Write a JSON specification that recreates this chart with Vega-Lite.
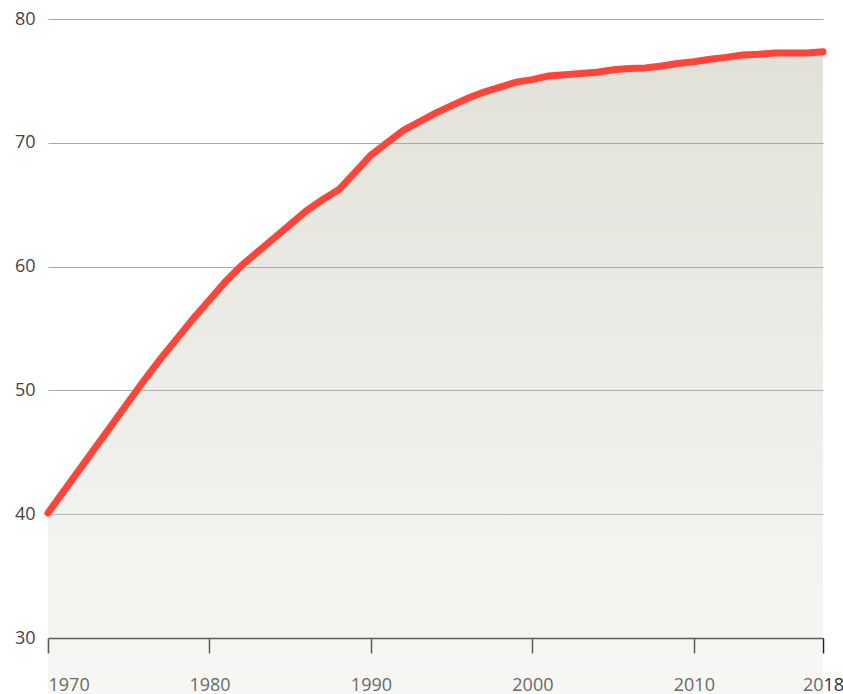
{
  "$schema": "https://vega.github.io/schema/vega-lite/v6.json",
  "width": 775,
  "height": 619,
  "autosize": {"type": "none"},
  "padding": {"left": 48, "top": 19, "right": 20, "bottom": 56},
  "background": "white",
  "config": {"view": {"stroke": null}, "font": "Open Sans"},
  "data": {"values": [
    {"year": 1970, "value": 40.1}, {"year": 1971, "value": 41.9}, {"year": 1972, "value": 43.7},
    {"year": 1973, "value": 45.5}, {"year": 1974, "value": 47.3}, {"year": 1975, "value": 49.1},
    {"year": 1976, "value": 50.9}, {"year": 1977, "value": 52.6}, {"year": 1978, "value": 54.2},
    {"year": 1979, "value": 55.8}, {"year": 1980, "value": 57.3}, {"year": 1981, "value": 58.8},
    {"year": 1982, "value": 60.1}, {"year": 1983, "value": 61.2}, {"year": 1984, "value": 62.3},
    {"year": 1985, "value": 63.4}, {"year": 1986, "value": 64.5}, {"year": 1987, "value": 65.4},
    {"year": 1988, "value": 66.2}, {"year": 1989, "value": 67.6}, {"year": 1990, "value": 69.0},
    {"year": 1991, "value": 70.0}, {"year": 1992, "value": 71.0}, {"year": 1993, "value": 71.7},
    {"year": 1994, "value": 72.4}, {"year": 1995, "value": 73.0}, {"year": 1996, "value": 73.6},
    {"year": 1997, "value": 74.1}, {"year": 1998, "value": 74.5}, {"year": 1999, "value": 74.9},
    {"year": 2000, "value": 75.1}, {"year": 2001, "value": 75.4}, {"year": 2002, "value": 75.5},
    {"year": 2003, "value": 75.6}, {"year": 2004, "value": 75.7}, {"year": 2005, "value": 75.9},
    {"year": 2006, "value": 76.0}, {"year": 2007, "value": 76.05}, {"year": 2008, "value": 76.2},
    {"year": 2009, "value": 76.4}, {"year": 2010, "value": 76.55}, {"year": 2011, "value": 76.75},
    {"year": 2012, "value": 76.9}, {"year": 2013, "value": 77.1}, {"year": 2014, "value": 77.15},
    {"year": 2015, "value": 77.25}, {"year": 2016, "value": 77.25}, {"year": 2017, "value": 77.25},
    {"year": 2018, "value": 77.35}
  ]},
  "encoding": {
    "x": {
      "field": "year", "type": "quantitative",
      "scale": {"domain": [1970, 2018], "nice": false, "zero": false},
      "axis": {
        "title": null, "values": [1970, 1980, 1990, 2000, 2010, 2018], "format": "d",
        "grid": false, "domainColor": "#222", "domainWidth": 1.5, "tickColor": "#222", "tickWidth": 1.5,
        "tickSize": 15, "labelPadding": 23, "labelFontSize": 18, "labelColor": "#333",
        "labelFont": "Open Sans",
        "labelAlign": {"condition": {"test": "datum.value == 1970", "value": "left"}, "value": "center"}
      }
    },
    "y": {
      "field": "value", "type": "quantitative",
      "scale": {"domain": [30, 80], "nice": false, "zero": false},
      "axis": {
        "title": null, "values": [30, 40, 50, 60, 70, 80], "domain": false, "ticks": false,
        "grid": true, "gridColor": "#a9a9a9", "gridWidth": 1,
        "labelPadding": 13, "labelFontSize": 18, "labelColor": "#444", "labelFont": "Open Sans"
      }
    }
  },
  "layer": [
    {
      "mark": {
        "type": "area",
        "fillOpacity": 0.3,
        "color": {
          "gradient": "linear", "x1": 0, "y1": 0, "x2": 0, "y2": 1,
          "stops": [
            {"offset": 0, "color": "rgb(158,155,128)"},
            {"offset": 0.5, "color": "rgb(212,212,200)"},
            {"offset": 1, "color": "rgb(255,255,255)"}
          ]
        }
      }
    },
    {
      "mark": {"type": "line", "color": "#ff4439", "strokeWidth": 7, "strokeCap": "round", "strokeJoin": "miter"}
    }
  ]
}
